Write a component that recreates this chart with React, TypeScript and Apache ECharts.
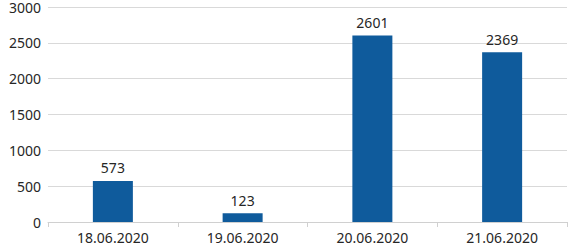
import React, { useEffect, useRef } from "react";
import * as echarts from "echarts";

const categories = ["18.06.2020", "19.06.2020", "20.06.2020", "21.06.2020"];
const values = [573, 123, 2601, 2369];
const yTicks = [0, 500, 1000, 1500, 2000, 2500, 3000];

export default function App() {
  const ref = useRef<HTMLDivElement>(null);
  useEffect(() => {
    if (!ref.current) return;
    const chart = echarts.init(ref.current, undefined, { renderer: "svg" });
    chart.setOption({
      animation: false,
      grid: { left: 48, right: 1, top: 6, bottom: 26, containLabel: false },
      xAxis: {
        type: "category",
        data: categories,
        axisLine: { lineStyle: { color: "#d0d0d0", width: 1 } },
        axisTick: { show: true, length: 5, lineStyle: { color: "#d0d0d0" } },
        axisLabel: {
          color: "#262626",
          fontFamily: "Noto Sans",
          fontSize: 14,
          margin: 8,
        },
      },
      yAxis: {
        type: "value",
        min: yTicks[0],
        max: yTicks[yTicks.length - 1],
        interval: 500,
        axisLine: { show: false },
        axisTick: { show: false },
        splitLine: { lineStyle: { color: "#d9d9d9", width: 1 } },
        axisLabel: {
          color: "#262626",
          fontFamily: "Noto Sans",
          fontSize: 14,
          margin: 7,
          formatter: (v: number) => String(v),
        },
      },
      series: [
        {
          type: "bar",
          data: values,
          barWidth: 40,
          itemStyle: { color: "#0f5b9c" },
          label: {
            show: true,
            position: "top",
            distance: 6,
            color: "#262626",
            fontFamily: "Noto Sans",
            fontSize: 14,
          },
        },
      ],
    });
    return () => chart.dispose();
  }, []);
  return <div ref={ref} style={{ width: 568, height: 248, position: "absolute", left: 0, top: 0 }} />;
}
